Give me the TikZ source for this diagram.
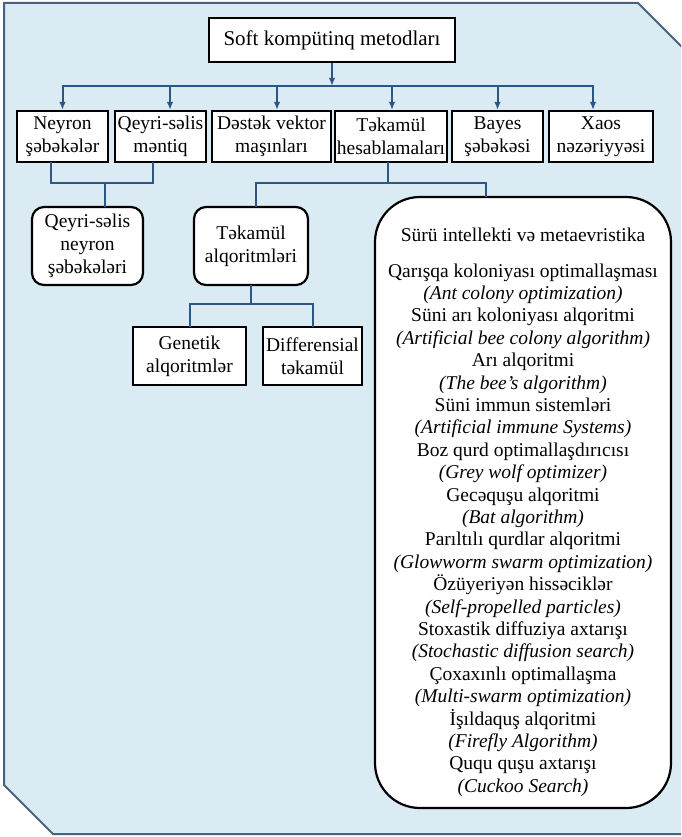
\documentclass[tikz,border=0pt]{standalone}
\usepackage{fontspec}
\setmainfont{Liberation Serif}
\usetikzlibrary{arrows.meta}
\definecolor{bgfill}{RGB}{218,235,243}
\definecolor{bgline}{RGB}{72,98,126}
\definecolor{conncol}{RGB}{46,86,132}
\begin{document}
\begin{tikzpicture}[x=1pt,y=-1pt,
  sq/.style={draw=black, line width=2.2pt, fill=white, inner sep=0pt, align=center,
             text=black, font=\fontsize{19.5}{23}\selectfont},
  rnd/.style={sq, rounded corners=12pt},
  conn/.style={draw=conncol, line width=2pt, line cap=rect, line join=miter},
  arr/.style={draw=conncol, line width=2pt, -{Latex[length=8pt,width=6.5pt]}},
]
\useasboundingbox (0,0) rectangle (681,837);
\clip (0,0) rectangle (681,837);
% background panel
\path[fill=bgfill, draw=bgline, line width=2pt]
  (710,834) -- (53,834) -- (4,785) -- (4,3) -- (638,3) -- (710,75) -- cycle;

% nodes
\node[sq, minimum width=246pt, minimum height=44pt, font=\fontsize{21}{25}\selectfont] (root) at (332,40) {Soft kompütinq metodları};

\node[sq, minimum width=91pt,  minimum height=51pt] (b1) at (62.5,136.5) {Neyron\\şəbəkələr};
\node[sq, minimum width=91pt,  minimum height=51pt] (b2) at (160.5,136.5) {Qeyri-səlis\\məntiq};
\node[sq, minimum width=119pt, minimum height=51pt] (b3) at (271.5,136.5) {Dəstək vektor\\maşınları};
\node[sq, minimum width=112pt, minimum height=51pt] (b4) at (391,136.5) {Təkamül\\hesablamaları};
\node[sq, minimum width=91pt,  minimum height=51pt] (b5) at (497.5,136.5) {Bayes\\şəbəkəsi};
\node[sq, minimum width=104pt, minimum height=51pt] (b6) at (601,136.5) {Xaos\\nəzəriyyəsi};

\node[rnd, minimum width=111pt, minimum height=78pt] (qsn) at (87.5,246) {Qeyri-səlis\\neyron\\şəbəkələri};
\node[rnd, minimum width=114pt, minimum height=78pt] (tal) at (251,246) {Təkamül\\alqoritmləri};
\node[sq, minimum width=113pt, minimum height=58pt] (gen) at (189.5,356) {Genetik\\alqoritmlər};
\node[sq, minimum width=99pt, minimum height=58pt] (dif) at (312.5,356) {Differensial\\təkamül};

\node[sq, rounded corners=45pt, minimum width=296pt, minimum height=611pt,
      font=\fontsize{19.5}{22.4}\selectfont] (swarm) at (523,502.5)
 {\rule{0pt}{33pt}Sürü intellekti və metaevristika\\[13pt]
  Qarışqa koloniyası optimallaşması\\
  \textit{(Ant colony optimization)}\\
  Süni arı koloniyası alqoritmi\\
  \textit{(Artificial bee colony algorithm)}\\
  Arı alqoritmi\\
  \textit{(The bee’s algorithm)}\\
  Süni immun sistemləri\\
  \textit{(Artificial immune Systems)}\\
  Boz qurd optimallaşdırıcısı\\
  \textit{(Grey wolf optimizer)}\\
  Gecəquşu alqoritmi\\
  \textit{(Bat algorithm)}\\
  Parıltılı qurdlar alqoritmi\\
  \textit{(Glowworm swarm optimization)}\\
  Özüyeriyən hissəciklər\\
  \textit{(Self-propelled particles)}\\
  Stoxastik diffuziya axtarışı\\
  \textit{(Stochastic diffusion search)}\\
  Çoxaxınlı optimallaşma\\
  \textit{(Multi-swarm optimization)}\\
  İşıldaquş alqoritmi\\
  \textit{(Firefly Algorithm)}\\
  Ququ quşu axtarışı\\
  \textit{(Cuckoo Search)}};

% connectors: root to bus
\coordinate (bus) at (332,86);
\path (b1.north) coordinate (t1);
\path ([xshift=9.5pt]b2.north) coordinate (t2);
\path ([xshift=5.5pt]b3.north) coordinate (t3);
\path ([xshift=1pt]b4.north) coordinate (t4);
\path (b5.north) coordinate (t5);
\path ([xshift=-8pt]b6.north) coordinate (t6);
\draw[arr] (root.south) -- (bus);
\draw[conn] (t1 |- bus) -- (t6 |- bus);
\foreach \t in {t1,t2,t3,t4,t5,t6} \draw[arr] (\t |- bus) -- (\t);

% lower connectors
\coordinate (m1) at (0,183);
\coordinate (m2) at (0,304);
\path ([xshift=-11.5pt]b1.south) coordinate (s1);
\path ([xshift=-7.5pt]b2.south) coordinate (s2);
\path ([xshift=17.5pt]qsn.north) coordinate (q1);
\draw[conn] (s1) -- (s1 |- m1) -- (s2 |- m1) -- (s2);
\draw[conn] (q1 |- m1) -- (q1);

\path ([xshift=-3pt]b4.south) coordinate (s4);
\path ([xshift=5pt]tal.north) coordinate (ta);
\path ([xshift=-37pt]swarm.north) coordinate (sw);
\draw[conn] (s4) -- (s4 |- m1);
\draw[conn] (ta) -- (ta |- m1) -- (sw |- m1) -- (sw);

\draw[conn] (tal.south) -- (tal.south |- m2);
\draw[conn] (gen.north) -- (gen.north |- m2) -- (dif.north |- m2) -- (dif.north);
\end{tikzpicture}
\end{document}
